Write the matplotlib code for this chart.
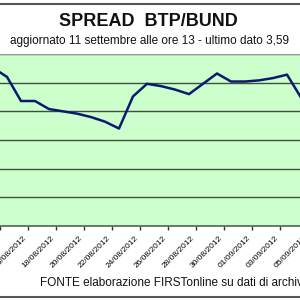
import matplotlib
matplotlib.use("Agg")
import matplotlib.pyplot as plt
import numpy as np

# day offsets from 14/08/2012 (category index) and spread values (%)
day_index = np.arange(-1, 22)
spread = [4.38, 4.30, 4.09, 4.09, 4.02, 4.00, 3.98, 3.95, 3.91, 3.85,
          4.13, 4.24, 4.22, 4.19, 4.15, 4.24, 4.33, 4.26, 4.26, 4.27,
          4.29, 4.32, 4.12]
tick_days = np.arange(0, 24, 2)
tick_labels = ["14/08/2012", "16/08/2012", "18/08/2012", "20/08/2012",
               "22/08/2012", "24/08/2012", "26/08/2012", "28/08/2012",
               "30/08/2012", "01/09/2012", "03/09/2012", "05/09/2012"]
y_grid = [3.0, 3.25, 3.5, 3.75, 4.0, 4.25, 4.5]

plt.rcParams['font.family'] = ['Liberation Sans', 'DejaVu Sans']

fig = plt.figure(figsize=(3, 3), dpi=100)
fig.patch.set_facecolor('white')

# plot area extends past the right edge of the picture (cropped chart)
ax = fig.add_axes([0, 74 / 300, 320 / 300, 172 / 300])
ax.set_facecolor('#ccffcc')
ax.plot(day_index + 0.5, spread, color='#0a1a6e', lw=1.8, solid_joinstyle='round')

ax.set_xlim(0, 320 / 14)
ax.set_ylim(y_grid[0], y_grid[-1])
ax.set_yticks(y_grid)
ax.yaxis.grid(True, color='#3f4f3f', lw=1.0)
ax.tick_params(axis='y', left=False, labelleft=False)
ax.set_xticks(tick_days)
ax.set_xticklabels(tick_labels, rotation=45, ha='right', va='top', fontsize=6)
ax.tick_params(axis='x', direction='out', length=3, width=1, color='#333333', pad=3)
for s in ['left', 'right']:
    ax.spines[s].set_visible(False)
ax.spines['top'].set_color('#9a9a9a')
ax.spines['top'].set_linewidth(0.8)
ax.spines['bottom'].set_color('#556655')
ax.spines['bottom'].set_linewidth(1.2)

fig.text(0.495, 1 - 22 / 300, "SPREAD  BTP/BUND", ha='center', va='center',
         fontsize=13, fontweight='bold', color='#111111')
fig.text(0.497, 1 - 41 / 300, "aggiornato 11 settembre alle ore 13 - ultimo dato 3,59",
         ha='center', va='center', fontsize=8.5, color='#111111')
fig.text(40 / 300, 1 - 283 / 300, "FONTE elaborazione FIRSTonline su dati di archivio",
         ha='left', va='center', fontsize=8.5, color='#111111')

# frame lines at top and bottom
fig.add_artist(plt.Line2D([0, 1], [1 - 3.5 / 300, 1 - 3.5 / 300], color='#555555', lw=1.5))
fig.add_artist(plt.Line2D([0, 1], [1 - 297 / 300, 1 - 297 / 300], color='#555555', lw=1.5))

fig.savefig('out.png', dpi=100)
